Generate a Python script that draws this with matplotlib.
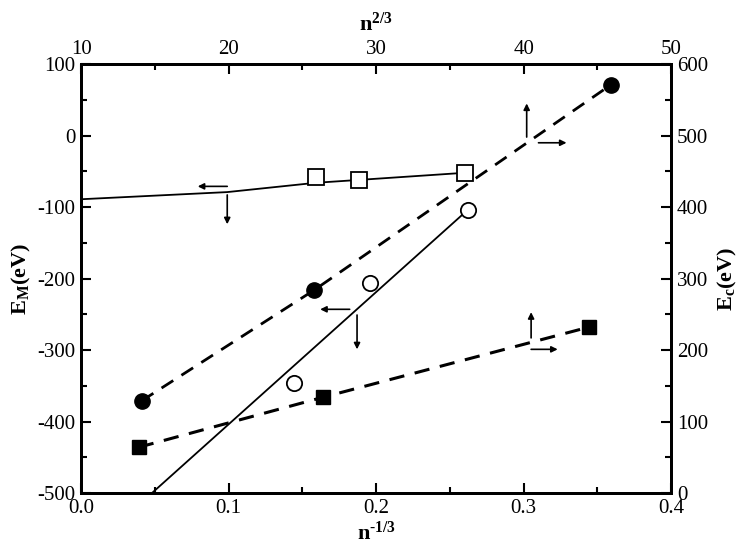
import numpy as np
import matplotlib
matplotlib.use("Agg")
import matplotlib.pyplot as plt
from matplotlib.ticker import MultipleLocator

plt.rcParams['font.family'] = 'Liberation Serif'
plt.rcParams['mathtext.fontset'] = 'custom'
plt.rcParams['mathtext.rm'] = 'Liberation Serif:bold'
plt.rcParams['mathtext.bf'] = 'Liberation Serif:bold'
plt.rcParams['mathtext.it'] = 'Liberation Serif:bold'
plt.rcParams['axes.unicode_minus'] = False

# E_M vs n^(-1/3)  (bottom / left axes)
sq_open_x = [0.159, 0.188, 0.260]
sq_open_y = [-58, -62, -52]
sq_line_x = [0.0, 0.099, 0.159, 0.188, 0.260]
sq_line_y = [-89, -79, -66, -62, -52]

circ_open_x = [0.144, 0.196, 0.262]
circ_open_y = [-346, -206, -104]
circ_line_x = [0.048, 0.262]
circ_line_y = [-500, -104]

# E_c vs n^(2/3)  (top / right axes)
circ_fill_x = [14.1, 25.8, 45.9]
circ_fill_y = [129, 284, 571]
sq_fill_x = [13.9, 26.4, 44.4]
sq_fill_y = [64, 134, 232]

fig = plt.figure(figsize=(7.45, 5.53), dpi=100)
ax = fig.add_axes([0.109, 0.1085, 0.792, 0.7755])
ax2 = ax.twinx()
ax3 = ax2.twiny()

ax.plot(sq_line_x, sq_line_y, color='black', lw=1.3)
ax.plot(sq_open_x, sq_open_y, 's', ms=11, mfc='white', mec='black', mew=1.3, ls='none')
ax.plot(circ_line_x, circ_line_y, color='black', lw=1.3)
ax.plot(circ_open_x, circ_open_y, 'o', ms=11, mfc='white', mec='black', mew=1.3, ls='none')

ax3.plot(circ_fill_x, circ_fill_y, color='black', lw=2, ls=(0, (5, 3.5)))
ax3.plot(circ_fill_x, circ_fill_y, 'o', ms=11, color='black', ls='none')
ax3.plot(sq_fill_x, sq_fill_y, color='black', lw=2.2, ls=(0, (5, 3.5)))
ax3.plot(sq_fill_x, sq_fill_y, 's', ms=9.5, color='black', ls='none')

ax.set_xlim(0, 0.4)
ax.set_ylim(-500, 100)
ax2.set_ylim(0, 600)
ax3.set_xlim(10, 50)

ap = dict(arrowstyle='-|>', color='black', lw=1.2, mutation_scale=9, shrinkA=0, shrinkB=0)
# arrows pointing to the axes each curve belongs to
ax.annotate('', xy=(0.079, -71), xytext=(0.099, -71), arrowprops=ap)
ax.annotate('', xy=(0.099, -124), xytext=(0.099, -83), arrowprops=ap)
ax.annotate('', xy=(0.162, -243), xytext=(0.182, -243), arrowprops=ap)
ax.annotate('', xy=(0.187, -299), xytext=(0.187, -251), arrowprops=ap)
ax3.annotate('', xy=(40.2, 545), xytext=(40.2, 498), arrowprops=ap)
ax3.annotate('', xy=(42.9, 490), xytext=(41.0, 490), arrowprops=ap)
ax3.annotate('', xy=(40.5, 253), xytext=(40.5, 217), arrowprops=ap)
ax3.annotate('', xy=(42.3, 201), xytext=(40.5, 201), arrowprops=ap)

ax.xaxis.set_major_locator(MultipleLocator(0.1))
ax.xaxis.set_minor_locator(MultipleLocator(0.05))
ax.yaxis.set_major_locator(MultipleLocator(100))
ax.yaxis.set_minor_locator(MultipleLocator(50))
ax2.yaxis.set_major_locator(MultipleLocator(100))
ax2.yaxis.set_minor_locator(MultipleLocator(50))
ax3.xaxis.set_major_locator(MultipleLocator(10))
ax3.xaxis.set_minor_locator(MultipleLocator(5))

ax.xaxis.set_major_formatter(plt.FormatStrFormatter('%.1f'))
ax.yaxis.set_major_formatter(plt.FuncFormatter(lambda v, p: '%d' % v))

for a in (ax, ax2, ax3):
    a.tick_params(which='major', direction='in', length=7, width=1.5, labelsize=15, pad=4)
    a.tick_params(which='minor', direction='in', length=4, width=1.5)
    for s in a.spines.values():
        s.set_linewidth(2)

ax.set_xlabel(r'$\mathregular{n^{\text{-1/3}}}$', fontsize=16, fontweight='bold', labelpad=3)
ax.set_ylabel(r'$\mathregular{E_M(eV)}$', fontsize=16, fontweight='bold', labelpad=3)
ax2.set_ylabel(r'$\mathregular{E_c(eV)}$', fontsize=16, fontweight='bold', labelpad=6)
ax3.set_xlabel(r'$\mathregular{n^{2/3}}$', fontsize=16, fontweight='bold', labelpad=6)

fig.savefig('out.png', dpi=100)
